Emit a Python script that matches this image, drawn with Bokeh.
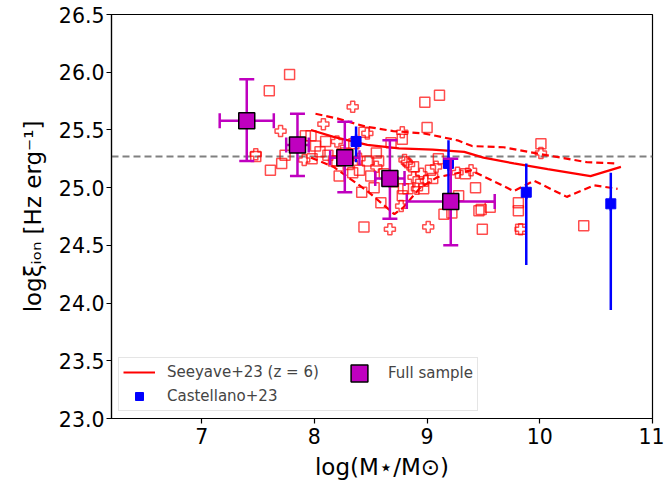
import math
from bokeh.plotting import figure
from bokeh.models import (Span, Legend, LegendItem, FixedTicker, NumeralTickFormatter, ColumnDataSource)
from bokeh.embed import file_html
from bokeh.resources import INLINE

# ---------------- data ----------------
# Full sample (binned medians)
full_x = [7.40, 7.85, 8.27, 8.67, 9.21]
full_y = [25.58, 25.37, 25.26, 25.08, 24.88]
full_xerr = [0.24, 0.10, 0.13, 0.13, 0.39]
full_yerr_lo = [0.35, 0.27, 0.30, 0.35, 0.38]
full_yerr_hi = [0.36, 0.27, 0.31, 0.33, 0.37]

# Castellano+23
cas_x = [8.37, 9.19, 9.88, 10.63]
cas_y = [25.40, 25.21, 24.96, 24.86]
cas_yerr_lo = [0.18, 0.35, 0.63, 0.92]
cas_yerr_hi = [0.13, 0.20, 0.25, 0.27]

# Seeyave+23 (z=6): median and scatter
see_x = [7.97, 8.17, 8.47, 8.75, 9.05, 9.33, 9.50, 9.77, 10.07, 10.45, 10.72]
see_y = [25.50, 25.44, 25.37, 25.34, 25.33, 25.31, 25.26, 25.21, 25.16, 25.10, 25.18]
see_hi_x = [8.01, 8.20, 8.45, 8.70, 8.97, 9.27, 9.40, 9.68, 10.01, 10.42, 10.69]
see_hi_y = [25.64, 25.60, 25.53, 25.49, 25.47, 25.41, 25.36, 25.35, 25.29, 25.22, 25.21]
see_lo_x = [7.97, 8.17, 8.47, 8.71, 8.79, 8.94, 9.09, 9.39, 9.77, 9.95, 10.24, 10.48, 10.69]
see_lo_y = [25.26, 25.18, 24.97, 24.77, 24.83, 25.00, 25.09, 25.15, 24.97, 25.06, 24.92, 25.02, 24.99]

# individual galaxies (open squares)
sq_x = [7.78, 7.60, 7.48, 7.61, 7.71, 7.74, 7.92, 7.97, 8.01, 8.05, 8.17, 8.22, 8.20, 8.34, 8.40,
        8.42, 8.44, 8.44, 8.47, 8.53, 8.57, 8.59, 8.68, 8.78, 8.78, 8.79, 8.83, 8.97, 8.98, 9.00,
        9.03, 9.10, 9.11, 9.15, 9.22, 9.28, 9.34, 9.43, 9.46, 9.48, 9.56, 9.49, 9.81, 9.81, 9.83,
        10.01, 10.39, 8.10, 8.28, 8.35, 8.12, 8.55, 8.62, 8.88, 8.92, 9.05, 8.70, 8.50, 7.98, 8.30]
sq_y = [25.98, 25.84, 25.27, 25.15, 25.21, 25.28, 25.45, 25.45, 25.36, 25.31, 25.23, 25.10, 25.23, 25.13, 25.15,
        24.96, 24.66, 25.48, 25.23, 25.00, 25.23, 24.87, 25.39, 25.42, 24.93, 24.99, 24.99, 24.99, 25.74, 25.52,
        25.15, 25.25, 25.80, 24.77, 24.78, 24.93, 25.12, 25.00, 24.80, 24.81, 24.83, 24.64, 24.87, 24.80, 24.64,
        25.38, 24.67, 25.40, 25.30, 25.38, 25.28, 25.30, 25.12, 25.18, 25.05, 25.08, 25.05, 25.10, 25.25, 25.20]

# individual galaxies (open plus)
pl_x = [7.70, 7.48, 7.91, 8.08, 8.34, 8.47, 8.67, 9.01, 8.88, 8.77, 8.91, 8.82, 8.84, 8.80, 8.78,
        9.39, 10.01, 8.99, 9.27, 9.83, 8.25, 8.40, 8.55, 8.95, 9.08, 8.20]
pl_y = [25.49, 25.29, 25.24, 25.55, 25.70, 25.47, 24.64, 24.66, 25.09, 24.84, 24.99, 25.22, 25.20, 25.24, 25.48,
        25.15, 25.30, 25.06, 25.13, 24.64, 25.32, 25.25, 25.18, 25.12, 25.18, 25.40]

ref_level = 25.27
x_ticks = [7, 8, 9, 10, 11]
y_ticks = [23.0, 23.5, 24.0, 24.5, 25.0, 25.5, 26.0, 26.5]

FONT = "DejaVu Sans"
MAG = "#bf00bf"
BLUE = "#0000ff"
RED = "#ff0000"

p = figure(width=664, height=489, x_range=(6.2, 11.0), y_range=(23.0, 26.5),
           output_backend="svg", toolbar_location=None,
           min_border_left=111, min_border_right=12, min_border_top=14, min_border_bottom=71)
p.grid.visible = False
p.outline_line_color = "black"
p.outline_line_width = 1.2
p.background_fill_color = "white"
p.border_fill_color = "white"

for ax in (p.xaxis[0], p.yaxis[0]):
    ax.axis_line_color = "black"
    ax.axis_line_width = 1.2
    ax.major_tick_line_color = "black"
    ax.major_tick_line_width = 1.2
    ax.major_tick_out = 5
    ax.major_tick_in = 0
    ax.minor_tick_line_color = None
    ax.major_label_text_font = FONT
    ax.major_label_text_font_size = "20.5px"
    ax.major_label_text_color = "black"
    ax.axis_label_text_font = FONT
    ax.axis_label_text_font_size = "23px"
    ax.axis_label_text_font_style = "normal"
    ax.axis_label_text_color = "black"

p.xaxis.major_label_standoff = 4
p.yaxis.major_label_standoff = 2
p.xaxis.ticker = FixedTicker(ticks=x_ticks)
p.yaxis.ticker = FixedTicker(ticks=y_ticks)
p.yaxis.formatter = NumeralTickFormatter(format="0.0")
p.xaxis.axis_label = "log(M\u22c6/M\u2299)"
p.yaxis.axis_label = "log\u03be\u1d62\u2092\u2099 [Hz erg\u207b\u00b9]"
p.xaxis.axis_label_standoff = 7
p.yaxis.axis_label_standoff = 10

# reference dashed line
p.add_layout(Span(location=ref_level, dimension="width", line_color="#808080",
                  line_width=2, line_dash="7 4", level="underlay"))

# individual galaxies
p.scatter(sq_x, sq_y, marker="square", size=10, fill_color=None, line_color=RED,
          line_alpha=0.7, line_width=1.5)
p.scatter(pl_x, pl_y, marker="plus", size=11, fill_color=None, line_color=RED,
          line_alpha=0.7, line_width=1.5)

# Seeyave lines
see_r = p.line(see_x, see_y, line_color=RED, line_width=2.2)
p.line(see_hi_x, see_hi_y, line_color=RED, line_width=2.2, line_dash="7 4")
p.line(see_lo_x, see_lo_y, line_color=RED, line_width=2.2, line_dash="7 4")

# Castellano points
cas_src = ColumnDataSource(dict(x=cas_x, y=cas_y,
                                lo=[y - e for y, e in zip(cas_y, cas_yerr_lo)],
                                hi=[y + e for y, e in zip(cas_y, cas_yerr_hi)]))
p.segment(x0="x", y0="lo", x1="x", y1="hi", source=cas_src, line_color=BLUE, line_width=2.5)
cas_bar = p.scatter(x="x", y="y", source=cas_src, marker="dash", size=14, angle=math.pi / 2,
                    line_color=BLUE, line_width=2.5)
cas_r = p.scatter(x="x", y="y", source=cas_src, marker="square", size=10,
                  fill_color=BLUE, line_color=BLUE)

# Full sample points with error bars
full_src = ColumnDataSource(dict(
    x=full_x, y=full_y,
    xl=[x - e for x, e in zip(full_x, full_xerr)],
    xr=[x + e for x, e in zip(full_x, full_xerr)],
    yl=[y - e for y, e in zip(full_y, full_yerr_lo)],
    yh=[y + e for y, e in zip(full_y, full_yerr_hi)]))
p.segment(x0="x", y0="yl", x1="x", y1="yh", source=full_src, line_color=MAG, line_width=2.5)
p.segment(x0="xl", y0="y", x1="xr", y1="y", source=full_src, line_color=MAG, line_width=2.5)
p.scatter(x="x", y="yl", source=full_src, marker="dash", size=15, line_color=MAG, line_width=2.5)
p.scatter(x="x", y="yh", source=full_src, marker="dash", size=15, line_color=MAG, line_width=2.5)
p.scatter(x="xl", y="y", source=full_src, marker="dash", size=15, angle=math.pi / 2,
          line_color=MAG, line_width=2.5)
p.scatter(x="xr", y="y", source=full_src, marker="dash", size=15, angle=math.pi / 2,
          line_color=MAG, line_width=2.5)
full_r = p.scatter(x="x", y="y", source=full_src, marker="square", size=16,
                   fill_color=MAG, line_color="black", line_width=1.5)

# Legends
legA = Legend(items=[LegendItem(label="Seeyave+23 (z = 6)", renderers=[see_r]),
                     LegendItem(label="Castellano+23", renderers=[cas_bar, cas_r])],
              location="bottom_left", margin=7, padding=4, spacing=4,
              glyph_width=32, glyph_height=20, label_height=20, label_standoff=12,
              label_width=306,
              label_text_font=FONT, label_text_font_size="15px",
              border_line_color="#cccccc", border_line_width=1,
              background_fill_color="white", background_fill_alpha=0.8)
legB = Legend(items=[LegendItem(label="Full sample", renderers=[full_r])],
              location=(223, 20), margin=0, padding=4, spacing=0,
              glyph_width=42, glyph_height=42, label_height=20, label_standoff=8,
              label_text_font=FONT, label_text_font_size="15px",
              border_line_alpha=0, background_fill_alpha=0)
p.add_layout(legA)
p.add_layout(legB)

open("out.html", "w").write(file_html(p, INLINE))
